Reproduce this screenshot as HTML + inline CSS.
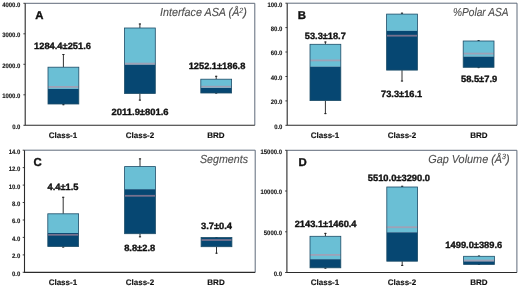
<!DOCTYPE html>
<html><head><meta charset="utf-8"><style>
html,body{margin:0;padding:0;background:#fff;width:520px;height:287px;overflow:hidden}
svg{display:block;will-change:transform}
text{font-family:"Liberation Sans",sans-serif;text-rendering:geometricPrecision}
.yt{font-size:6.5px;font-weight:bold;fill:#1a1a1a;stroke:#1a1a1a;stroke-width:0.15px}
.let{font-size:11.4px;font-weight:bold;fill:#111;stroke:#111;stroke-width:0.35px}
.ttl{font-size:11.6px;font-style:italic;fill:#4e4e4e;stroke:#4e4e4e;stroke-width:0.12px}
.val{font-size:9.1px;font-weight:bold;fill:#111;stroke:#111;stroke-width:0.35px}
.xl{font-size:8px;font-weight:bold;text-anchor:middle;fill:#111;stroke:#111;stroke-width:0.15px}
</style></head><body>
<svg width="520" height="287" viewBox="0 0 520 287">
<rect width="520" height="287" fill="#fff"/>
<polyline points='25.2,3.3 254.8,3.3 254.8,125.3' fill='none' stroke='#5f6a7a' stroke-width='1'/>
<line x1='23.4' y1='3.3' x2='25.2' y2='3.3' stroke='#2b2b2b' stroke-width='0.9'/>
<text x='2.20' y='6.70' class='yt' textLength='18.20' lengthAdjust='spacingAndGlyphs'>4000.0</text>
<line x1='23.4' y1='33.8' x2='25.2' y2='33.8' stroke='#2b2b2b' stroke-width='0.9'/>
<text x='2.20' y='37.20' class='yt' textLength='18.20' lengthAdjust='spacingAndGlyphs'>3000.0</text>
<line x1='23.4' y1='64.3' x2='25.2' y2='64.3' stroke='#2b2b2b' stroke-width='0.9'/>
<text x='2.20' y='67.70' class='yt' textLength='18.20' lengthAdjust='spacingAndGlyphs'>2000.0</text>
<line x1='23.4' y1='94.8' x2='25.2' y2='94.8' stroke='#2b2b2b' stroke-width='0.9'/>
<text x='2.20' y='98.20' class='yt' textLength='18.20' lengthAdjust='spacingAndGlyphs'>1000.0</text>
<line x1='23.4' y1='125.3' x2='25.2' y2='125.3' stroke='#2b2b2b' stroke-width='0.9'/>
<text x='12.13' y='128.70' class='yt' textLength='8.27' lengthAdjust='spacingAndGlyphs'>0.0</text>
<line x1='63.4' y1='54.0' x2='63.4' y2='67.2' stroke='#333' stroke-width='1'/>
<line x1='63.4' y1='104.0' x2='63.4' y2='105.2' stroke='#333' stroke-width='1'/>
<line x1='62.3' y1='54.5' x2='64.5' y2='54.5' stroke='#222' stroke-width='1'/>
<line x1='62.3' y1='104.7' x2='64.5' y2='104.7' stroke='#222' stroke-width='1'/>
<rect x='48.00' y='67.2' width='30.80' height='21.70' fill='#6abfd5'/>
<rect x='48.00' y='88.9' width='30.80' height='15.10' fill='#064772'/>
<line x1='48.00' y1='86.9' x2='78.80' y2='86.9' stroke='#c28ea2' stroke-width='1.8' stroke-opacity='0.6'/>
<rect x='48.00' y='67.2' width='30.80' height='36.80' fill='none' stroke='#1d4d68' stroke-width='0.8'/>
<line x1='139.9' y1='23.5' x2='139.9' y2='28.0' stroke='#333' stroke-width='1'/>
<line x1='139.9' y1='93.5' x2='139.9' y2='100.6' stroke='#333' stroke-width='1'/>
<line x1='138.8' y1='24.0' x2='141.0' y2='24.0' stroke='#222' stroke-width='1'/>
<line x1='138.8' y1='100.1' x2='141.0' y2='100.1' stroke='#222' stroke-width='1'/>
<rect x='124.50' y='28.0' width='30.80' height='36.60' fill='#6abfd5'/>
<rect x='124.50' y='64.6' width='30.80' height='28.90' fill='#064772'/>
<line x1='124.50' y1='63.6' x2='155.30' y2='63.6' stroke='#c28ea2' stroke-width='1.8' stroke-opacity='0.6'/>
<rect x='124.50' y='28.0' width='30.80' height='65.50' fill='none' stroke='#1d4d68' stroke-width='0.8'/>
<line x1='216.2' y1='75.8' x2='216.2' y2='79.2' stroke='#333' stroke-width='1'/>
<line x1='216.2' y1='93.0' x2='216.2' y2='93.5' stroke='#333' stroke-width='1'/>
<line x1='215.1' y1='76.3' x2='217.29999999999998' y2='76.3' stroke='#222' stroke-width='1'/>
<line x1='215.1' y1='93.0' x2='217.29999999999998' y2='93.0' stroke='#222' stroke-width='1'/>
<rect x='200.80' y='79.2' width='30.80' height='8.80' fill='#6abfd5'/>
<rect x='200.80' y='88.0' width='30.80' height='5.00' fill='#064772'/>
<line x1='200.80' y1='86.7' x2='231.60' y2='86.7' stroke='#c28ea2' stroke-width='1.8' stroke-opacity='0.6'/>
<rect x='200.80' y='79.2' width='30.80' height='13.80' fill='none' stroke='#1d4d68' stroke-width='0.8'/>
<polyline points='25.2,3.3 25.2,125.3 254.8,125.3' fill='none' stroke='#2b2b2b' stroke-width='1.1'/>
<text x='35.2' y='19.2' class='let'>A</text>
<text x='160.00' y='16.2' class='ttl' textLength='86.9' lengthAdjust='spacingAndGlyphs'>Interface ASA (Å<tspan font-size='7.6' dy='-3.6'>2</tspan><tspan dy='3.6'>)</tspan></text>
<text x='34.05' y='49.0' class='val' textLength='56.9' lengthAdjust='spacingAndGlyphs'>1284.4±251.6</text>
<text x='111.60' y='115.1' class='val' textLength='57.0' lengthAdjust='spacingAndGlyphs'>2011.9±801.6</text>
<text x='188.70' y='69.2' class='val' textLength='56.6' lengthAdjust='spacingAndGlyphs'>1252.1±186.8</text>
<text x='63.0' y='137.7' class='xl'>Class-1</text>
<text x='140.0' y='137.7' class='xl'>Class-2</text>
<text x='215.9' y='137.7' class='xl'>BRD</text>
<polyline points='287.2,3.2 517.0,3.2 517.0,125.3' fill='none' stroke='#5f6a7a' stroke-width='1'/>
<line x1='285.4' y1='3.2' x2='287.2' y2='3.2' stroke='#2b2b2b' stroke-width='0.9'/>
<text x='267.51' y='6.60' class='yt' textLength='14.89' lengthAdjust='spacingAndGlyphs'>100.0</text>
<line x1='285.4' y1='27.6' x2='287.2' y2='27.6' stroke='#2b2b2b' stroke-width='0.9'/>
<text x='270.82' y='31.00' class='yt' textLength='11.58' lengthAdjust='spacingAndGlyphs'>80.0</text>
<line x1='285.4' y1='52.0' x2='287.2' y2='52.0' stroke='#2b2b2b' stroke-width='0.9'/>
<text x='270.82' y='55.40' class='yt' textLength='11.58' lengthAdjust='spacingAndGlyphs'>60.0</text>
<line x1='285.4' y1='76.5' x2='287.2' y2='76.5' stroke='#2b2b2b' stroke-width='0.9'/>
<text x='270.82' y='79.90' class='yt' textLength='11.58' lengthAdjust='spacingAndGlyphs'>40.0</text>
<line x1='285.4' y1='100.9' x2='287.2' y2='100.9' stroke='#2b2b2b' stroke-width='0.9'/>
<text x='270.82' y='104.30' class='yt' textLength='11.58' lengthAdjust='spacingAndGlyphs'>20.0</text>
<line x1='285.4' y1='125.3' x2='287.2' y2='125.3' stroke='#2b2b2b' stroke-width='0.9'/>
<text x='274.13' y='128.70' class='yt' textLength='8.27' lengthAdjust='spacingAndGlyphs'>0.0</text>
<line x1='325.4' y1='41.5' x2='325.4' y2='44.3' stroke='#333' stroke-width='1'/>
<line x1='325.4' y1='100.6' x2='325.4' y2='114.1' stroke='#333' stroke-width='1'/>
<line x1='324.29999999999995' y1='42.0' x2='326.5' y2='42.0' stroke='#222' stroke-width='1'/>
<line x1='324.29999999999995' y1='113.6' x2='326.5' y2='113.6' stroke='#222' stroke-width='1'/>
<rect x='310.00' y='44.3' width='30.80' height='22.30' fill='#6abfd5'/>
<rect x='310.00' y='66.6' width='30.80' height='34.00' fill='#064772'/>
<line x1='310.00' y1='60.4' x2='340.80' y2='60.4' stroke='#c28ea2' stroke-width='1.8' stroke-opacity='0.6'/>
<rect x='310.00' y='44.3' width='30.80' height='56.30' fill='none' stroke='#1d4d68' stroke-width='0.8'/>
<line x1='402.0' y1='12.7' x2='402.0' y2='14.1' stroke='#333' stroke-width='1'/>
<line x1='402.0' y1='70.1' x2='402.0' y2='81.5' stroke='#333' stroke-width='1'/>
<line x1='400.9' y1='13.2' x2='403.1' y2='13.2' stroke='#222' stroke-width='1'/>
<line x1='400.9' y1='81.0' x2='403.1' y2='81.0' stroke='#222' stroke-width='1'/>
<rect x='386.60' y='14.1' width='30.80' height='16.70' fill='#6abfd5'/>
<rect x='386.60' y='30.8' width='30.80' height='39.30' fill='#064772'/>
<line x1='386.60' y1='35.7' x2='417.40' y2='35.7' stroke='#c28ea2' stroke-width='1.8' stroke-opacity='0.6'/>
<rect x='386.60' y='14.1' width='30.80' height='56.00' fill='none' stroke='#1d4d68' stroke-width='0.8'/>
<line x1='478.6' y1='40.2' x2='478.6' y2='41.0' stroke='#333' stroke-width='1'/>
<line x1='478.6' y1='67.3' x2='478.6' y2='68.1' stroke='#333' stroke-width='1'/>
<line x1='477.5' y1='40.7' x2='479.70000000000005' y2='40.7' stroke='#222' stroke-width='1'/>
<line x1='477.5' y1='67.6' x2='479.70000000000005' y2='67.6' stroke='#222' stroke-width='1'/>
<rect x='463.20' y='41.0' width='30.80' height='15.60' fill='#6abfd5'/>
<rect x='463.20' y='56.6' width='30.80' height='10.70' fill='#064772'/>
<line x1='463.20' y1='53.6' x2='494.00' y2='53.6' stroke='#c28ea2' stroke-width='1.8' stroke-opacity='0.6'/>
<rect x='463.20' y='41.0' width='30.80' height='26.30' fill='none' stroke='#1d4d68' stroke-width='0.8'/>
<polyline points='287.2,3.2 287.2,125.3 517.0,125.3' fill='none' stroke='#2b2b2b' stroke-width='1.1'/>
<text x='297.7' y='19.0' class='let'>B</text>
<text x='453.00' y='15.7' class='ttl' textLength='55.5' lengthAdjust='spacingAndGlyphs'>%Polar ASA</text>
<text x='304.80' y='39.1' class='val' textLength='41.0' lengthAdjust='spacingAndGlyphs'>53.3±18.7</text>
<text x='381.10' y='96.6' class='val' textLength='41.0' lengthAdjust='spacingAndGlyphs'>73.3±16.1</text>
<text x='460.95' y='82.2' class='val' textLength='36.3' lengthAdjust='spacingAndGlyphs'>58.5±7.9</text>
<text x='325.0' y='137.8' class='xl'>Class-1</text>
<text x='402.0' y='137.8' class='xl'>Class-2</text>
<text x='478.8' y='137.8' class='xl'>BRD</text>
<polyline points='24.5,150.2 255.2,150.2 255.2,272.4' fill='none' stroke='#5f6a7a' stroke-width='1'/>
<line x1='22.7' y1='150.2' x2='24.5' y2='150.2' stroke='#2b2b2b' stroke-width='0.9'/>
<text x='8.72' y='153.60' class='yt' textLength='11.58' lengthAdjust='spacingAndGlyphs'>14.0</text>
<line x1='22.7' y1='167.6' x2='24.5' y2='167.6' stroke='#2b2b2b' stroke-width='0.9'/>
<text x='8.72' y='171.00' class='yt' textLength='11.58' lengthAdjust='spacingAndGlyphs'>12.0</text>
<line x1='22.7' y1='185.1' x2='24.5' y2='185.1' stroke='#2b2b2b' stroke-width='0.9'/>
<text x='8.72' y='188.50' class='yt' textLength='11.58' lengthAdjust='spacingAndGlyphs'>10.0</text>
<line x1='22.7' y1='202.5' x2='24.5' y2='202.5' stroke='#2b2b2b' stroke-width='0.9'/>
<text x='12.03' y='205.90' class='yt' textLength='8.27' lengthAdjust='spacingAndGlyphs'>8.0</text>
<line x1='22.7' y1='220.0' x2='24.5' y2='220.0' stroke='#2b2b2b' stroke-width='0.9'/>
<text x='12.03' y='223.40' class='yt' textLength='8.27' lengthAdjust='spacingAndGlyphs'>6.0</text>
<line x1='22.7' y1='237.4' x2='24.5' y2='237.4' stroke='#2b2b2b' stroke-width='0.9'/>
<text x='12.03' y='240.80' class='yt' textLength='8.27' lengthAdjust='spacingAndGlyphs'>4.0</text>
<line x1='22.7' y1='254.9' x2='24.5' y2='254.9' stroke='#2b2b2b' stroke-width='0.9'/>
<text x='12.03' y='258.30' class='yt' textLength='8.27' lengthAdjust='spacingAndGlyphs'>2.0</text>
<line x1='22.7' y1='272.3' x2='24.5' y2='272.3' stroke='#2b2b2b' stroke-width='0.9'/>
<text x='12.03' y='275.70' class='yt' textLength='8.27' lengthAdjust='spacingAndGlyphs'>0.0</text>
<line x1='63.2' y1='196.8' x2='63.2' y2='213.8' stroke='#333' stroke-width='1'/>
<line x1='63.2' y1='246.5' x2='63.2' y2='247.5' stroke='#333' stroke-width='1'/>
<line x1='62.1' y1='197.3' x2='64.3' y2='197.3' stroke='#222' stroke-width='1'/>
<line x1='62.1' y1='247.0' x2='64.3' y2='247.0' stroke='#222' stroke-width='1'/>
<rect x='47.80' y='213.8' width='30.80' height='19.20' fill='#6abfd5'/>
<rect x='47.80' y='233.0' width='30.80' height='13.50' fill='#064772'/>
<line x1='47.80' y1='234.8' x2='78.60' y2='234.8' stroke='#c28ea2' stroke-width='1.8' stroke-opacity='0.6'/>
<rect x='47.80' y='213.8' width='30.80' height='32.70' fill='none' stroke='#1d4d68' stroke-width='0.8'/>
<line x1='140.0' y1='158.4' x2='140.0' y2='166.6' stroke='#333' stroke-width='1'/>
<line x1='140.0' y1='233.7' x2='140.0' y2='237.3' stroke='#333' stroke-width='1'/>
<line x1='138.9' y1='158.9' x2='141.1' y2='158.9' stroke='#222' stroke-width='1'/>
<line x1='138.9' y1='236.8' x2='141.1' y2='236.8' stroke='#222' stroke-width='1'/>
<rect x='124.60' y='166.6' width='30.80' height='22.60' fill='#6abfd5'/>
<rect x='124.60' y='189.2' width='30.80' height='44.50' fill='#064772'/>
<line x1='124.60' y1='195.8' x2='155.40' y2='195.8' stroke='#c28ea2' stroke-width='1.8' stroke-opacity='0.6'/>
<rect x='124.60' y='166.6' width='30.80' height='67.10' fill='none' stroke='#1d4d68' stroke-width='0.8'/>
<line x1='216.5' y1='237.0' x2='216.5' y2='237.5' stroke='#333' stroke-width='1'/>
<line x1='216.5' y1='246.7' x2='216.5' y2='253.7' stroke='#333' stroke-width='1'/>
<line x1='215.4' y1='237.5' x2='217.6' y2='237.5' stroke='#222' stroke-width='1'/>
<line x1='215.4' y1='253.2' x2='217.6' y2='253.2' stroke='#222' stroke-width='1'/>
<rect x='201.10' y='237.5' width='30.80' height='0.00' fill='#6abfd5'/>
<rect x='201.10' y='237.5' width='30.80' height='9.20' fill='#064772'/>
<line x1='201.10' y1='240.0' x2='231.90' y2='240.0' stroke='#c28ea2' stroke-width='1.8' stroke-opacity='0.6'/>
<rect x='201.10' y='237.5' width='30.80' height='9.20' fill='none' stroke='#1d4d68' stroke-width='0.8'/>
<polyline points='24.5,150.2 24.5,272.4 255.2,272.4' fill='none' stroke='#2b2b2b' stroke-width='1.1'/>
<text x='33.6' y='166.2' class='let'>C</text>
<text x='200.00' y='162.7' class='ttl' textLength='48.0' lengthAdjust='spacingAndGlyphs'>Segments</text>
<text x='47.50' y='189.8' class='val' textLength='31.0' lengthAdjust='spacingAndGlyphs'>4.4±1.5</text>
<text x='124.15' y='250.7' class='val' textLength='31.1' lengthAdjust='spacingAndGlyphs'>8.8±2.8</text>
<text x='201.00' y='228.9' class='val' textLength='31.0' lengthAdjust='spacingAndGlyphs'>3.7±0.4</text>
<text x='62.9' y='285.0' class='xl'>Class-1</text>
<text x='140.0' y='285.0' class='xl'>Class-2</text>
<text x='216.0' y='285.0' class='xl'>BRD</text>
<polyline points='286.9,150.3 516.9,150.3 516.9,272.5' fill='none' stroke='#5f6a7a' stroke-width='1'/>
<line x1='285.09999999999997' y1='150.3' x2='286.9' y2='150.3' stroke='#2b2b2b' stroke-width='0.9'/>
<text x='260.50' y='153.70' class='yt' textLength='21.50' lengthAdjust='spacingAndGlyphs'>15000.0</text>
<line x1='285.09999999999997' y1='191.0' x2='286.9' y2='191.0' stroke='#2b2b2b' stroke-width='0.9'/>
<text x='260.50' y='194.40' class='yt' textLength='21.50' lengthAdjust='spacingAndGlyphs'>10000.0</text>
<line x1='285.09999999999997' y1='231.8' x2='286.9' y2='231.8' stroke='#2b2b2b' stroke-width='0.9'/>
<text x='263.80' y='235.20' class='yt' textLength='18.20' lengthAdjust='spacingAndGlyphs'>5000.0</text>
<line x1='285.09999999999997' y1='272.5' x2='286.9' y2='272.5' stroke='#2b2b2b' stroke-width='0.9'/>
<text x='273.73' y='275.90' class='yt' textLength='8.27' lengthAdjust='spacingAndGlyphs'>0.0</text>
<line x1='325.4' y1='232.9' x2='325.4' y2='236.3' stroke='#333' stroke-width='1'/>
<line x1='325.4' y1='267.8' x2='325.4' y2='268.6' stroke='#333' stroke-width='1'/>
<line x1='324.29999999999995' y1='233.4' x2='326.5' y2='233.4' stroke='#222' stroke-width='1'/>
<line x1='324.29999999999995' y1='268.1' x2='326.5' y2='268.1' stroke='#222' stroke-width='1'/>
<rect x='310.00' y='236.3' width='30.80' height='22.90' fill='#6abfd5'/>
<rect x='310.00' y='259.2' width='30.80' height='8.60' fill='#064772'/>
<line x1='310.00' y1='254.9' x2='340.80' y2='254.9' stroke='#c28ea2' stroke-width='1.8' stroke-opacity='0.6'/>
<rect x='310.00' y='236.3' width='30.80' height='31.50' fill='none' stroke='#1d4d68' stroke-width='0.8'/>
<line x1='402.2' y1='185.8' x2='402.2' y2='187.0' stroke='#333' stroke-width='1'/>
<line x1='402.2' y1='261.2' x2='402.2' y2='265.9' stroke='#333' stroke-width='1'/>
<line x1='401.09999999999997' y1='186.3' x2='403.3' y2='186.3' stroke='#222' stroke-width='1'/>
<line x1='401.09999999999997' y1='265.4' x2='403.3' y2='265.4' stroke='#222' stroke-width='1'/>
<rect x='386.80' y='187.0' width='30.80' height='45.30' fill='#6abfd5'/>
<rect x='386.80' y='232.3' width='30.80' height='28.90' fill='#064772'/>
<line x1='386.80' y1='227.2' x2='417.60' y2='227.2' stroke='#c28ea2' stroke-width='1.8' stroke-opacity='0.6'/>
<rect x='386.80' y='187.0' width='30.80' height='74.20' fill='none' stroke='#1d4d68' stroke-width='0.8'/>
<line x1='479.0' y1='255.6' x2='479.0' y2='256.3' stroke='#333' stroke-width='1'/>
<line x1='479.0' y1='264.4' x2='479.0' y2='265.0' stroke='#333' stroke-width='1'/>
<line x1='477.9' y1='256.1' x2='480.1' y2='256.1' stroke='#222' stroke-width='1'/>
<line x1='477.9' y1='264.5' x2='480.1' y2='264.5' stroke='#222' stroke-width='1'/>
<rect x='463.60' y='256.3' width='30.80' height='5.00' fill='#6abfd5'/>
<rect x='463.60' y='261.3' width='30.80' height='3.10' fill='#064772'/>
<line x1='463.60' y1='260.5' x2='494.40' y2='260.5' stroke='#c28ea2' stroke-width='1.8' stroke-opacity='0.6'/>
<rect x='463.60' y='256.3' width='30.80' height='8.10' fill='none' stroke='#1d4d68' stroke-width='0.8'/>
<polyline points='286.9,150.3 286.9,272.5 516.9,272.5' fill='none' stroke='#2b2b2b' stroke-width='1.1'/>
<text x='298.5' y='166.3' class='let'>D</text>
<text x='428.20' y='162.8' class='ttl' textLength='81.5' lengthAdjust='spacingAndGlyphs'>Gap Volume (Å<tspan font-size='7.6' dy='-3.6'>3</tspan><tspan dy='3.6'>)</tspan></text>
<text x='294.65' y='226.8' class='val' textLength='61.9' lengthAdjust='spacingAndGlyphs'>2143.1±1460.4</text>
<text x='367.75' y='180.8' class='val' textLength='62.3' lengthAdjust='spacingAndGlyphs'>5510.0±3290.0</text>
<text x='445.35' y='247.6' class='val' textLength='56.9' lengthAdjust='spacingAndGlyphs'>1499.0±389.6</text>
<text x='325.0' y='285.0' class='xl'>Class-1</text>
<text x='402.0' y='285.0' class='xl'>Class-2</text>
<text x='478.8' y='285.0' class='xl'>BRD</text>
</svg>
</body></html>
